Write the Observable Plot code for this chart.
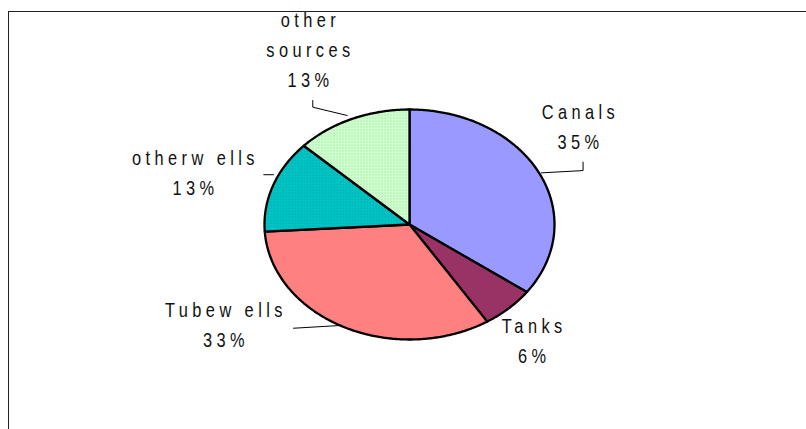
<!DOCTYPE html>
<html>
<head>
<meta charset="utf-8">
<script src="https://cdn.jsdelivr.net/npm/d3@7"></script>
<script src="https://cdn.jsdelivr.net/npm/@observablehq/plot@0.6"></script>
<style>
  html, body { margin: 0; padding: 0; background: #fff; }
  #wrap { position: relative; width: 806px; height: 429px; overflow: hidden; }
  #frame { position: absolute; left: 8px; top: 11px; width: 820px; height: 440px;
           border-left: 1.5px solid #222; border-top: 1.5px solid #222; pointer-events: none; }
  #chart svg text { letter-spacing: 5.4px; }
</style>
</head>
<body>
<svg width="0" height="0" style="position:absolute">
  <defs>
    <pattern id="patWells" width="3" height="3" patternUnits="userSpaceOnUse">
      <rect width="3" height="3" fill="#00C8C8"/>
      <rect x="0" y="0" width="1" height="1" fill="#009A9A"/>
      <rect x="1" y="1" width="1" height="1" fill="#00A8A8"/>
    </pattern>
    <pattern id="patSources" width="3" height="3" patternUnits="userSpaceOnUse">
      <rect width="3" height="3" fill="#CCFFCC"/>
      <rect x="0" y="0" width="1" height="1" fill="#A6D8A6"/>
    </pattern>
  </defs>
</svg>
<div id="wrap">
  <div id="chart"></div>
  <div id="frame"></div>
</div>
<script>
// ---- data ----
const sources = ["Canals", "Tanks", "Tubewells", "other wells", "other sources"];
const shares = [35, 6, 33, 13, 13];
const labelText = ["Canals", "Tanks", "Tubew ells", "otherw ells", "other\nsources"];
const fills = ["#9999FF", "#993366", "#FF8080", "url(#patWells)", "url(#patSources)"];

// ---- layout (data coordinates of the unit pie) ----
const labelPos = {
  "Canals": [1.179, 0.87],
  "Tanks": [0.86, -0.99],
  "Tubewells": [-1.266, -0.855],
  "other wells": [-1.476, 0.47],
  "other sources": [-0.683, 1.54]
};
const leaders = [
  {name: "Canals", pts: [[0.909, 0.449], [1.197, 0.469], [1.197, 0.542]]},
  {name: "other sources", pts: [[-0.667, 1.078], [-0.667, 1.02], [-0.43, 0.948]]},
  {name: "Tubewells", pts: [[-0.8, -0.902], [-0.476, -0.878]]},
  {name: "other wells", pts: [[-1.005, 0.433], [-0.938, 0.433]]}
];

// ---- slice geometry from the shares ----
const pie = d3.pie().sort(null).value(d => d.v)(sources.map((n, i) => ({n, v: shares[i]})));
const slicePts = [];
for (const p of pie) {
  const name = p.data.n;
  slicePts.push({name, x: 0, y: 0});
  const steps = Math.max(4, Math.ceil((p.endAngle - p.startAngle) / 0.01));
  for (let k = 0; k <= steps; k++) {
    const a = p.startAngle + (p.endAngle - p.startAngle) * k / steps;
    slicePts.push({name, x: Math.sin(a), y: Math.cos(a)});
  }
}
const leaderPts = leaders.flatMap(l => l.pts.map(([x, y]) => ({name: l.name, x, y})));
const labels = sources.map((n, i) => ({
  name: n, x: labelPos[n][0], y: labelPos[n][1], text: `${labelText[i]}\n${shares[i]}%`
}));

const chart = Plot.plot({
  width: 806,
  height: 429,
  margin: 0,
  x: {domain: [-1, 1], range: [264, 554], axis: null},
  y: {domain: [-1, 1], range: [339, 109], axis: null},
  color: {type: "ordinal", domain: sources, range: fills},
  style: {background: "transparent", overflow: "visible"},
  marks: [
    Plot.line(leaderPts, {x: "x", y: "y", z: "name", stroke: "#000", strokeWidth: 1}),
    Plot.line(slicePts, {
      x: "x", y: "y", z: "name", fill: "name", stroke: "#000",
      strokeWidth: 2.3, strokeLinejoin: "round", curve: "linear-closed"
    }),
    Plot.text(labels, {
      x: "x", y: "y", text: "text", fontSize: 20, lineHeight: 1.5,
      fontFamily: "'Liberation Sans Narrow', 'Arial Narrow', 'Liberation Sans', Arial, sans-serif",
      fill: "#111", textAnchor: "middle"
    })
  ]
});
document.getElementById("chart").appendChild(chart);

// condense the label glyphs horizontally (narrow face look)
chart.querySelectorAll("text").forEach(t => {
  const tr = t.getAttribute("transform");
  const xa = t.getAttribute("x"), ya = t.getAttribute("y");
  if (tr && !xa) {
    t.setAttribute("transform", tr + " scale(0.82,1)");
  } else {
    const x = +xa || 0, y = +ya || 0;
    t.setAttribute("transform", `${tr || ""} translate(${x},${y}) scale(0.82,1) translate(${-x},${-y})`);
  }
});
</script>
</body>
</html>
